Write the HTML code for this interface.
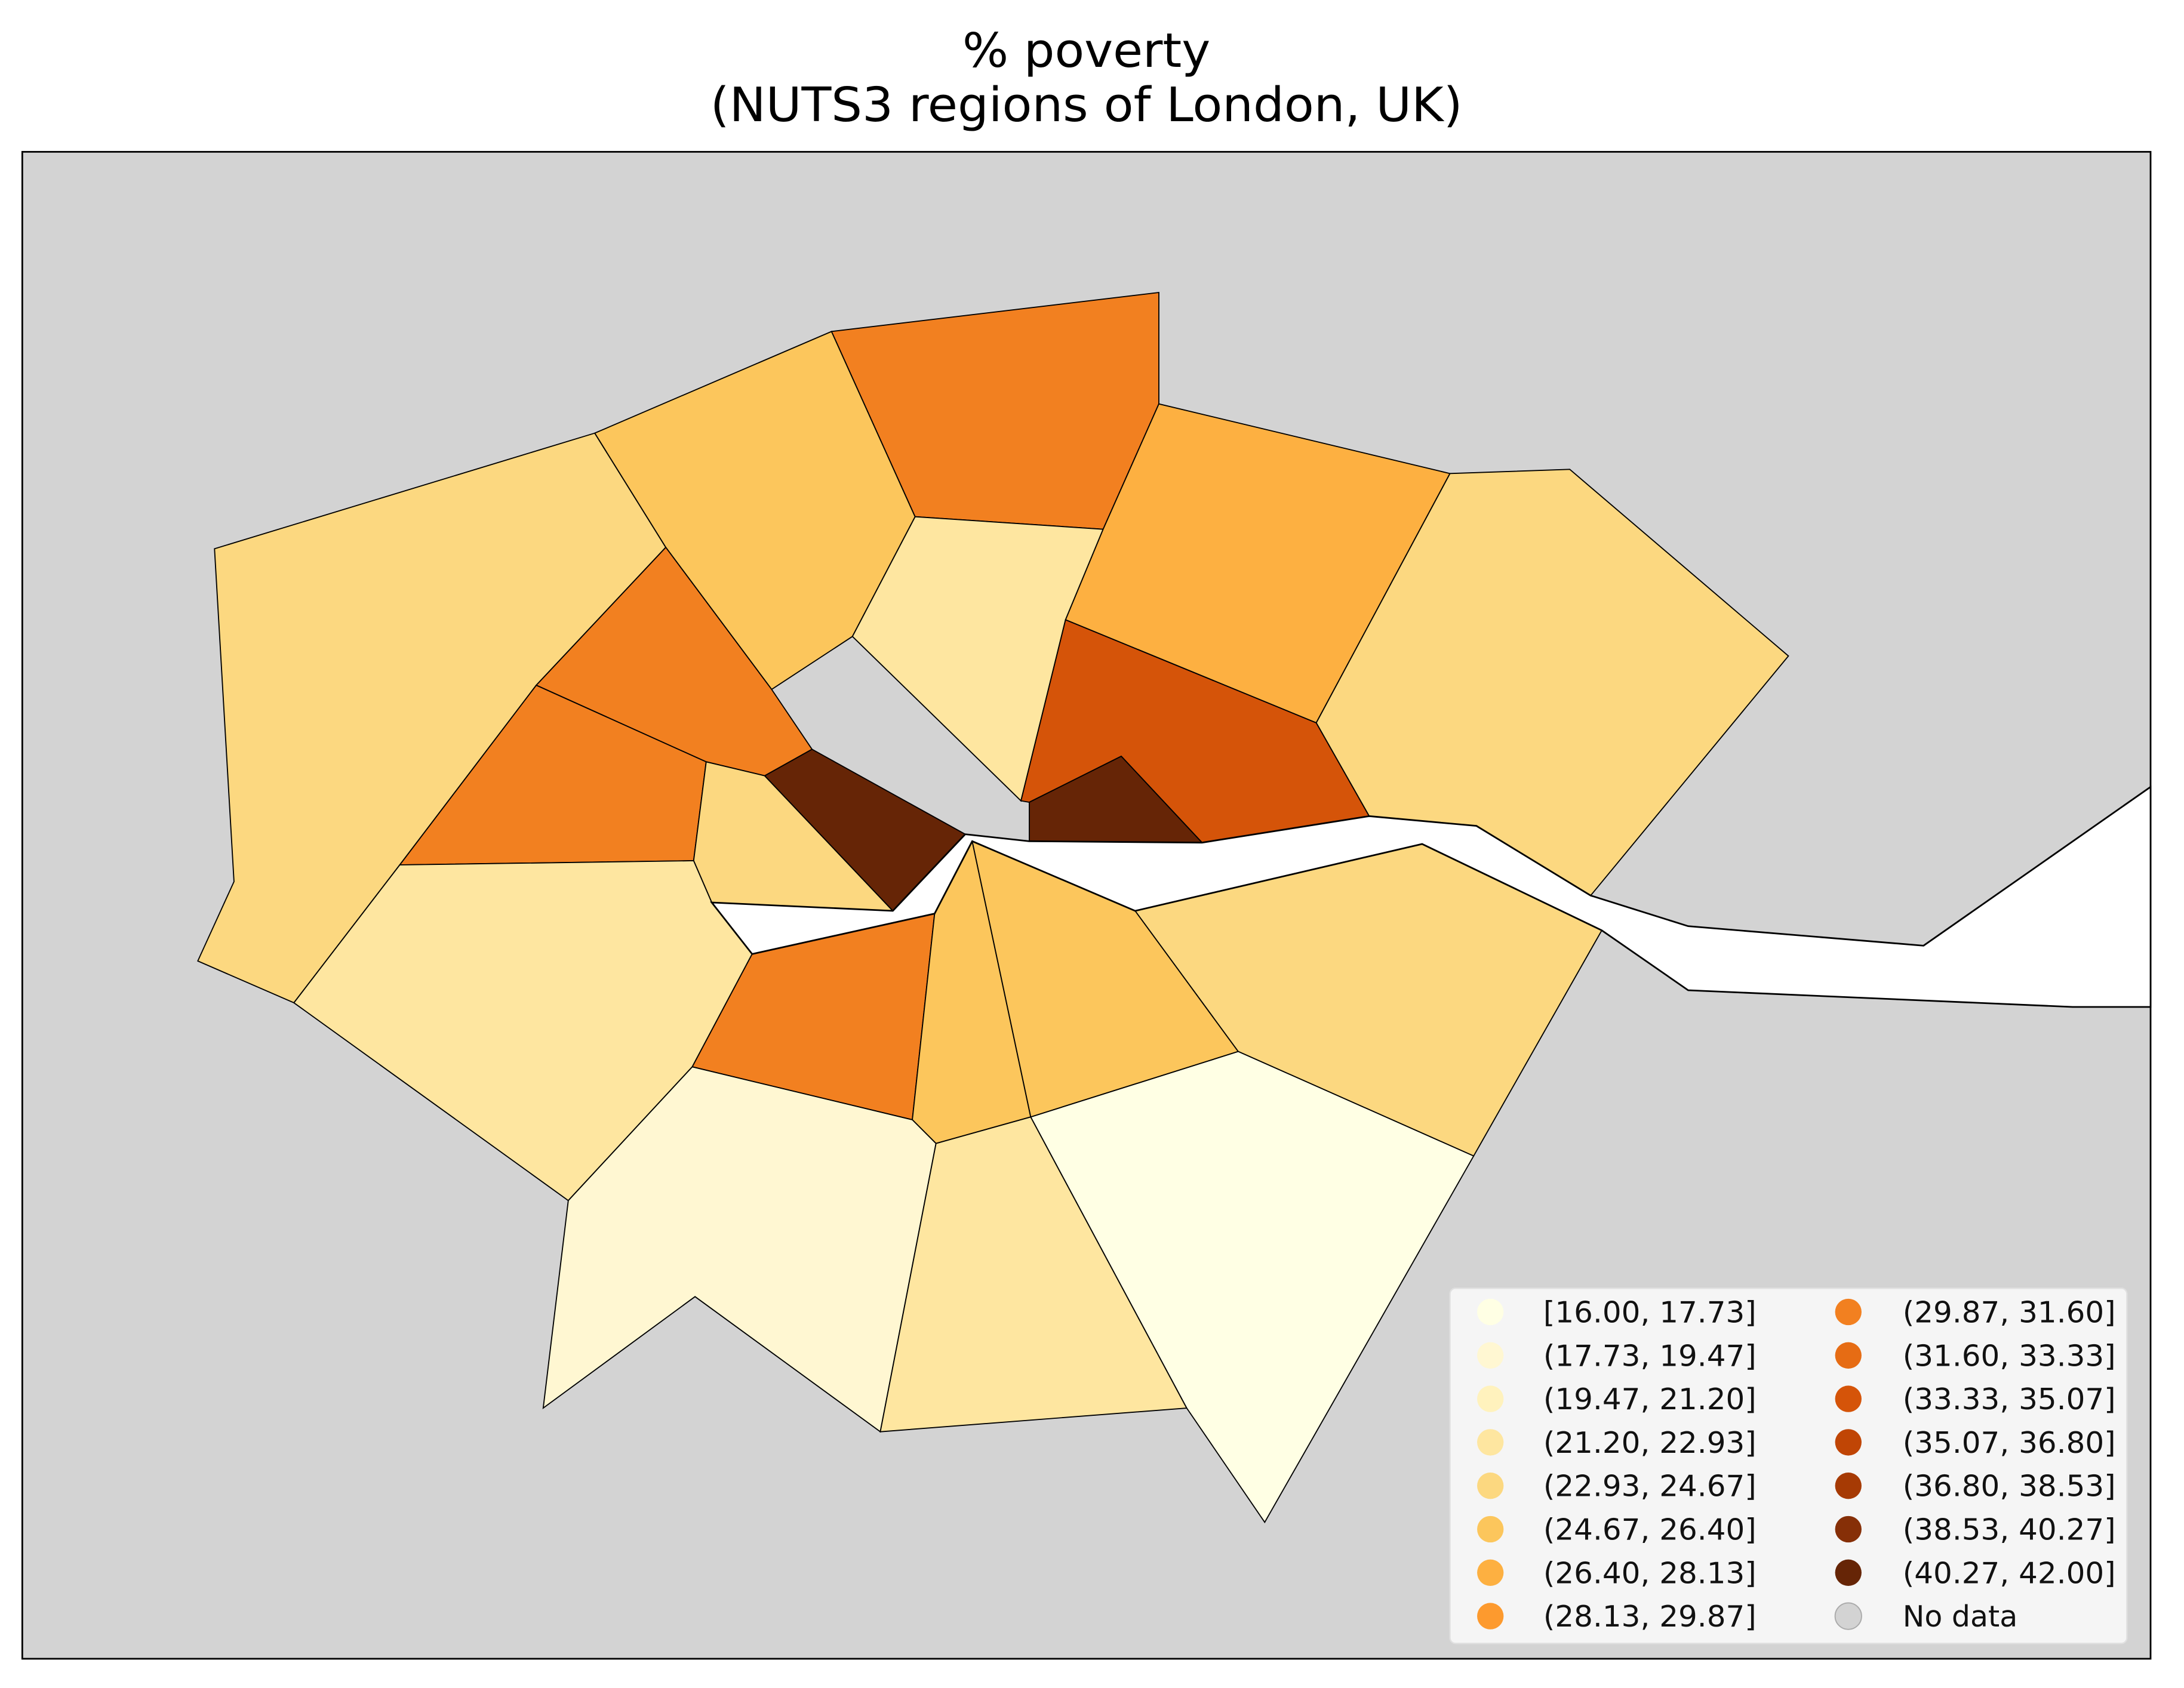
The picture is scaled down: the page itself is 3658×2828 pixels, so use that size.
<!DOCTYPE html>
<html><head><meta charset="utf-8"><style>
html,body{margin:0;padding:0;background:#fff;}
svg{display:block;font-family:"DejaVu Sans","Liberation Sans",sans-serif;}
</style></head><body>
<svg id="chart" width="3658" height="2828" viewBox="0 0 1568 1212" preserveAspectRatio="none" xmlns="http://www.w3.org/2000/svg">
<text x="780" y="48" font-size="34" text-anchor="middle" fill="#000" textLength="178" lengthAdjust="spacingAndGlyphs">% poverty</text>
<text x="780" y="87" font-size="34" text-anchor="middle" fill="#000" textLength="540" lengthAdjust="spacingAndGlyphs">(NUTS3 regions of London, UK)</text>
<rect x="16" y="109" width="1528" height="1082" fill="#d3d3d3" stroke="#000" stroke-width="1.2"/>
<g id="regions"></g>
<g id="legend"></g>
</svg>
<script>
const binEdges = [16.00,17.73,19.47,21.20,22.93,24.67,26.40,28.13,29.87,31.60,33.33,35.07,36.80,38.53,40.27,42.00];
const binColors = ['#ffffe4','#fff7d2','#fff2bd','#fee6a0','#fcd880','#fcc65c','#fdb041','#fd9a2e','#f28020','#e66c14','#d55409','#c04505','#a63a04','#862f07','#662506'];
const regionNames = ['west','north-west','north','haringey','waltham','east','hackney','tower-hamlets','brent','ealing','westminster','camden','hounslow','wandsworth','lambeth','southwark','greenwich','sutton','croydon','bromley'];
const regionValues = [23.5,25.5,30.5,22.0,27.0,23.5,34.0,41.0,30.5,30.5,23.5,41.0,22.0,30.5,25.5,25.5,23.5,18.5,22.0,16.5];
const regionShapes = [
 [[154,394],[427,311],[478,393],[385,492],[287,621],[211,720],[142,690],[168,633]],
 [[427,311],[597,238],[657,371],[612,457],[554,495],[478,393]],
 [[597,238],[832,210],[832,290],[792,380],[657,371]],
 [[657,371],[792,380],[765,445],[733,575],[612,457]],
 [[832,290],[1041,340],[945,519],[765,445],[792,380]],
 [[1041,340],[1127,337],[1284,471],[1142,643],[1060,593],[983,586],[945,519]],
 [[765,445],[945,519],[983,586],[863,605],[805,543],[739,576],[733,575]],
 [[739,576],[805,543],[863,605],[739,604]],
 [[385,492],[478,393],[554,495],[583,538],[549,557],[507,547]],
 [[385,492],[507,547],[498,618],[287,621]],
 [[507,547],[549,557],[641,654],[511,648],[498,618]],
 [[549,557],[583,538],[693,599],[641,654]],
 [[287,621],[498,618],[511,648],[540,685],[497,766],[408,862],[211,720]],
 [[540,685],[671,656],[655,804],[497,766]],
 [[671,656],[698,604],[740,802],[672,821],[655,804]],
 [[698,604],[815,654],[889,755],[740,802]],
 [[815,654],[1021,606],[1150,668],[1058,830],[889,755]],
 [[497,766],[655,804],[672,821],[632,1028],[499,931],[390,1011],[408,862]],
 [[672,821],[740,802],[852,1011],[632,1028]],
 [[740,802],[889,755],[1058,830],[908,1093],[852,1011]]
];
const river = [[511,648],[641,654],[693,599],[739,604],[863,605],[983,586],[1060,593],[1142,643],[1212,665],[1381,679],[1544,565],[1544,723],[1488,723],[1212,711],[1150,668],[1021,606],[815,654],[698,604],[671,656],[540,685]];
const legendLabels = ['[16.00, 17.73]','(17.73, 19.47]','(19.47, 21.20]','(21.20, 22.93]','(22.93, 24.67]','(24.67, 26.40]','(26.40, 28.13]','(28.13, 29.87]','(29.87, 31.60]','(31.60, 33.33]','(33.33, 35.07]','(35.07, 36.80]','(36.80, 38.53]','(38.53, 40.27]','(40.27, 42.00]','No data'];
const NS='http://www.w3.org/2000/svg';
function colorFor(v){for(let i=0;i<binColors.length;i++){if(v<=binEdges[i+1])return binColors[i];}return binColors[binColors.length-1];}
const rg=document.getElementById('regions');
regionShapes.forEach((pts,i)=>{
 const p=document.createElementNS(NS,'polygon');
 p.setAttribute('points',pts.map(q=>q.join(',')).join(' '));
 p.setAttribute('fill',colorFor(regionValues[i]));
 p.setAttribute('stroke','#000');p.setAttribute('stroke-width','0.8');
 
 
 rg.appendChild(p);
});
const rv=document.createElementNS(NS,'polygon');
rv.setAttribute('points',river.map(q=>q.join(',')).join(' '));
rv.setAttribute('fill','#fff');rv.setAttribute('stroke','#000');rv.setAttribute('stroke-width','1.2');


rg.appendChild(rv);
const lg=document.getElementById('legend');
const box=document.createElementNS(NS,'rect');
box.setAttribute('x',1041);box.setAttribute('y',925);box.setAttribute('width',486);box.setAttribute('height',255);box.setAttribute('rx',4);
box.setAttribute('fill','#f5f5f5');box.setAttribute('stroke','#e0e0e0');


lg.appendChild(box);
legendLabels.forEach((lab,i)=>{
 const col=Math.floor(i/8), row=i%8;
 const cx=col?1327:1070, tx=col?1366:1108, y=942+row*31.2;
 const g=document.createElementNS(NS,'g');
 
 
 const c=document.createElementNS(NS,'circle');
 c.setAttribute('cx',cx);c.setAttribute('cy',y);c.setAttribute('r',9.5);
 c.setAttribute('fill',i<15?binColors[i]:'#d3d3d3');
 if(i===15){c.setAttribute('stroke','#aaa');c.setAttribute('stroke-width','0.8');}
 
 
 const t=document.createElementNS(NS,'text');
 t.setAttribute('x',tx);t.setAttribute('y',y+7.5);t.setAttribute('font-size','21');t.setAttribute('fill','#111');
 if(i<15){t.setAttribute('textLength','153');t.setAttribute('lengthAdjust','spacingAndGlyphs');}
 t.textContent=lab;
 
 
 g.appendChild(c);g.appendChild(t);lg.appendChild(g);
});
</script>
</body></html>
